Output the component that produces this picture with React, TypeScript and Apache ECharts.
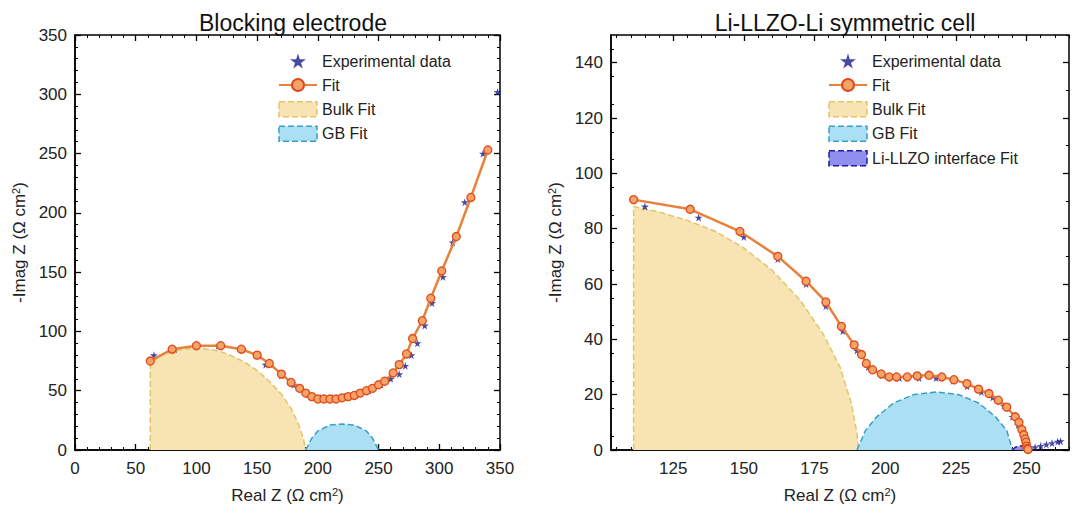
import React, { useEffect, useRef } from 'react'
import * as echarts from 'echarts'

// Blocking electrode
const leftBulk: [number, number][] = [
  [62, 0], [62, 75], [70, 80], [80, 83], [90, 85], [100, 86], [110, 85], [120, 83], [130, 79], [140, 74],
  [150, 67], [160, 58], [170, 47], [178, 35], [184, 22], [188, 10], [190, 0],
]
const leftGB: [number, number][] = [
  [190, 0], [195, 10], [200, 16], [210, 21], [220, 22], [230, 21], [240, 16], [245, 10], [250, 0],
]
const leftFit: [number, number][] = [
  [62, 75], [80, 85], [100, 88], [120, 88], [137, 85], [150, 80], [160, 73], [170, 64], [178, 57],
  [185, 52], [190, 48], [195, 45], [200, 43], [205, 43], [210, 43], [215, 43], [220, 44], [225, 45],
  [230, 46], [235, 48], [240, 50], [245, 52], [250, 55], [255, 58], [262, 65], [267, 72], [273, 81],
  [278, 94], [286, 109], [293, 128], [302, 151], [314, 180], [326, 213], [340, 253],
]
const leftExp: [number, number][] = [
  [65, 80], [82, 85], [100, 89], [118, 88], [138, 85], [157, 72], [170, 63], [180, 55], [192, 47],
  [202, 44], [212, 44], [222, 45], [232, 47], [242, 50], [252, 55], [260, 60], [267, 64], [272, 71],
  [277, 80], [282, 90], [288, 105], [294, 124], [303, 146], [311, 175], [321, 209], [336, 250], [348, 302],
]

// Li-LLZO-Li symmetric cell
const rightBulk: [number, number][] = [
  [111, 0], [111, 88], [120, 86], [130, 83], [140, 79], [150, 73], [160, 65], [170, 54], [178, 42],
  [184, 30], [188, 17], [190, 6], [190.5, 0],
]
const rightGB: [number, number][] = [
  [190, 0], [193, 7], [197, 12], [203, 17], [210, 20], [218, 21], [226, 20], [233, 17], [239, 12],
  [243, 7], [245, 0],
]
const rightInterface: [number, number][] = [
  [245, 0], [246, 1], [248, 1.5], [250, 1], [251, 0],
]
const rightFit: [number, number][] = [
  [111, 90.5], [131, 87], [148.6, 79], [162, 70], [172, 61], [179, 53.5], [184.5, 44.7], [189, 38],
  [191.6, 34.5], [193.3, 31.3], [195.5, 29], [198.6, 27.5], [201.4, 26.4], [204, 26.4], [207.8, 26.4],
  [211.3, 26.8], [215.5, 27], [220, 26.4], [224.3, 25.4], [228.9, 24], [233, 22], [236.7, 20.4],
  [240, 18], [243, 15.5], [246, 12], [247.3, 10], [248.3, 7.4], [249, 5.5], [249.5, 4], [249.8, 2.8],
  [250, 1.4], [250.3, 0.6], [250.5, 0.2],
]
const rightExp: [number, number][] = [
  [115, 88], [134, 84], [150, 77], [162, 69], [172, 60], [179, 52], [185, 43], [190, 36], [194, 30],
  [199, 27], [205, 26], [212, 26], [218, 26], [224, 25], [229, 23], [234, 21], [238, 19], [242, 16],
  [245, 12], [247, 9], [249, 5], [250, 2], [251, 0.5], [253, 1], [255, 1.5], [257, 2], [259, 2.5],
  [261, 3], [262, 3.2],
]

const leftTicks = [0, 50, 100, 150, 200, 250, 300, 350]
const rightXTicks = [125, 150, 175, 200, 225, 250]
const rightXMinor = [105, 110, 115, 120, 130, 135, 140, 145, 155, 160, 165, 170, 180, 185, 190, 195,
  205, 210, 215, 220, 230, 235, 240, 245, 255, 260, 265]
const rightYTicks = [0, 20, 40, 60, 80, 100, 120, 140]

const STAR = 'path://M50,0 L61,35 L98,35 L68,57 L79,91 L50,70 L21,91 L32,57 L2,35 L39,35 Z'
const FONT = 'Liberation Sans'
const ORANGE = '#e8823a'

export default function App() {
  const ref = useRef<HTMLDivElement>(null)

  useEffect(() => {
    if (!ref.current) return
    const chart = echarts.init(ref.current, null, { renderer: 'svg' })

    const axisLine = { show: true, onZero: false, lineStyle: { color: '#000', width: 1.5 } }
    const noLine = { show: false, onZero: false }
    const tickMajor = { show: true, inside: true, length: 6, lineStyle: { color: '#000', width: 1.3 } }
    const minor = (n: number) => ({ show: true, splitNumber: n, length: 3, lineStyle: { color: '#000' } })
    const label = { color: '#222', fontSize: 17, fontFamily: FONT }
    const rich = { s: { fontSize: 11, verticalAlign: 'top', padding: [0, 0, 8, 0] } }
    const nameStyle = { fontSize: 17, fontFamily: FONT, color: '#222', rich }
    const xName = { name: 'Real Z (Ω cm{s|2})', nameLocation: 'middle', nameGap: 36, nameTextStyle: nameStyle }
    const yName = { name: '-Imag Z (Ω cm{s|2})', nameLocation: 'middle', nameGap: 46, nameTextStyle: nameStyle }
    const mirror = (grid: number, min: number, max: number, ticks: number[], minorVals: number[], pos: string) => [
      { type: 'value', gridIndex: grid, position: pos, min, max, axisLine: noLine,
        axisTick: { ...tickMajor, customValues: ticks }, axisLabel: { show: false }, splitLine: { show: false } },
      { type: 'value', gridIndex: grid, position: pos, min, max, axisLine: noLine,
        axisTick: { show: true, inside: true, length: 3, customValues: minorVals, lineStyle: { color: '#000' } },
        axisLabel: { show: false }, splitLine: { show: false } },
    ]
    const leftMinor = Array.from({ length: 36 }, (_, i) => i * 10).filter(v => v % 50 !== 0)
    const rightYMinor = Array.from({ length: 16 }, (_, i) => i * 10).filter(v => v % 20 !== 0)

    const areaSeries = (name: string, data: [number, number][], x: number, y: number, fill: string, line: string, z = 1) => ({
      name, type: 'line', xAxisIndex: x, yAxisIndex: y, data, symbol: 'none', z,
      lineStyle: { color: line, type: 'dashed', width: 1.5 },
      itemStyle: { color: fill, borderColor: line, borderType: 'dashed', borderWidth: 1.5 },
      areaStyle: { color: fill, opacity: 1 },
    })
    const fitSeries = (data: [number, number][], x: number, y: number) => ({
      name: 'Fit', type: 'line', xAxisIndex: x, yAxisIndex: y, data, z: 5,
      symbol: 'circle', symbolSize: 8,
      lineStyle: { color: ORANGE, width: 2.5 },
      itemStyle: { color: '#f4a468', borderColor: '#e04a1a', borderWidth: 1.3 },
    })
    const expSeries = (data: [number, number][], x: number, y: number) => ({
      name: 'Experimental data', type: 'scatter', xAxisIndex: x, yAxisIndex: y, data, z: 4,
      symbol: STAR, symbolSize: 8, itemStyle: { color: '#1c1c8c' },
    })

    const xAxes = [
      { type: 'value', gridIndex: 0, min: 0, max: 350, interval: 50, axisLine, axisTick: tickMajor,
        axisLabel: { ...label, margin: 10, customValues: leftTicks }, splitLine: { show: false },
        minorTick: minor(5), ...xName },
      { type: 'value', gridIndex: 1, min: 103, max: 265, axisLine,
        axisTick: { ...tickMajor, customValues: rightXTicks },
        axisLabel: { ...label, margin: 10, customValues: rightXTicks }, splitLine: { show: false }, ...xName },
      ...mirror(0, 0, 350, leftTicks, leftMinor, 'top'),
      ...mirror(1, 103, 265, rightXTicks, rightXMinor, 'top'),
      ...mirror(1, 103, 265, rightXTicks, rightXMinor, 'bottom'),
    ]
    const yAxes = [
      { type: 'value', gridIndex: 0, min: 0, max: 350, interval: 50, axisLine, axisTick: tickMajor,
        axisLabel: { ...label, margin: 8, customValues: leftTicks }, splitLine: { show: false },
        minorTick: minor(5), ...yName },
      { type: 'value', gridIndex: 1, min: 0, max: 150, interval: 10, axisLine,
        axisTick: { ...tickMajor, customValues: rightYTicks },
        axisLabel: { ...label, margin: 8, customValues: rightYTicks }, splitLine: { show: false },
        minorTick: minor(2), ...yName },
      ...mirror(0, 0, 350, leftTicks, leftMinor, 'right'),
      ...mirror(1, 0, 150, rightYTicks, rightYMinor, 'right'),
    ]

    const legendBase = {
      orient: 'vertical', itemWidth: 38, itemHeight: 15, itemGap: 8,
      textStyle: { fontSize: 16, fontFamily: FONT, color: '#222' },
    }
    const rectItem = (name: string, fill: string, line: string) => ({
      name, icon: 'rect', itemStyle: { color: fill, borderColor: line, borderType: 'dashed', borderWidth: 1.5 },
    })
    const legendData = [
      { name: 'Experimental data', icon: STAR, itemStyle: { color: '#1c1c8c' } },
      { name: 'Fit' },
      rectItem('Bulk Fit', '#f8e3b2', '#e3c46a'),
      rectItem('GB Fit', '#abe0f4', '#3a9fbf'),
    ]

    chart.setOption({
      animation: false,
      title: [
        { text: 'Blocking electrode', left: 280, top: -2, textAlign: 'center', textStyle: { fontSize: 23, fontWeight: 'normal', fontFamily: FONT, color: '#111' } },
        { text: 'Li-LLZO-Li symmetric cell', left: 832, top: -2, textAlign: 'center', textStyle: { fontSize: 23, fontWeight: 'normal', fontFamily: FONT, color: '#111' } },
      ],
      grid: [
        { left: 67, right: 572, top: 27, bottom: 48, show: true, borderColor: '#000', borderWidth: 1.5, backgroundColor: 'transparent' },
        { left: 603, right: 3, top: 27, bottom: 48, show: true, borderColor: '#000', borderWidth: 1.5, backgroundColor: 'transparent' },
      ],
      legend: [
        { ...legendBase, left: 265, top: 40, data: legendData },
        { ...legendBase, left: 815, top: 40, data: [...legendData, rectItem('Li-LLZO interface Fit', '#8f8ff0', '#1c1c9c')] },
      ],
      xAxis: xAxes,
      yAxis: yAxes,
      series: [
        areaSeries('Bulk Fit', leftBulk, 0, 0, '#f8e3b2', '#e3c46a'),
        areaSeries('GB Fit', leftGB, 0, 0, '#abe0f4', '#3a9fbf'),
        fitSeries(leftFit, 0, 0),
        expSeries(leftExp, 0, 0),
        areaSeries('Bulk Fit', rightBulk, 1, 1, '#f8e3b2', '#e3c46a'),
        areaSeries('GB Fit', rightGB, 1, 1, '#abe0f4', '#3a9fbf'),
        areaSeries('Li-LLZO interface Fit', rightInterface, 1, 1, '#8f8ff0', '#1c1c9c', 3),
        fitSeries(rightFit, 1, 1),
        expSeries(rightExp, 1, 1),
      ],
    } as any)
    return () => chart.dispose()
  }, [])

  return <div ref={ref} style={{ width: 1064, height: 501 }} />
}
